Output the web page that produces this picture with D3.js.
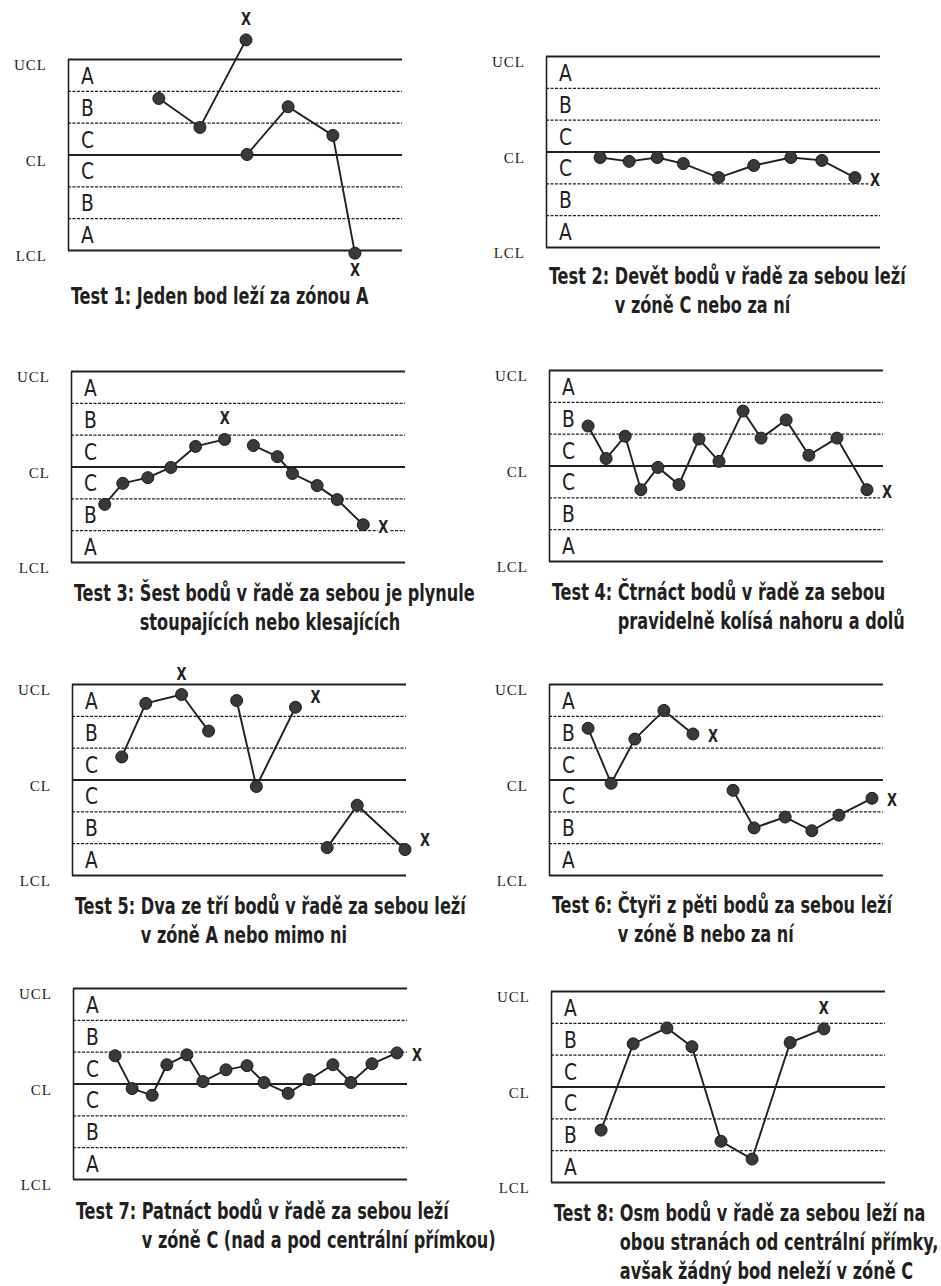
<!DOCTYPE html>
<html>
<head>
<meta charset="utf-8">
<script src="https://cdn.jsdelivr.net/npm/d3@7"></script>
<style>
body { margin: 0; background: #fff; }
.limit-axis text { font-family: 'Liberation Serif', 'DejaVu Serif', serif; font-size: 15px; letter-spacing: 1px; fill: #231f20; }
.limit-axis line { stroke: #231f20; stroke-width: 1.8; }
.limit-axis path { stroke: #231f20; stroke-width: 1.6; }
.zone-axis line { stroke: #231f20; stroke-width: 1.2; stroke-dasharray: 3 1.5; }
.zone-label { font-family: 'Liberation Sans Narrow', 'DejaVu Sans Condensed', sans-serif; font-size: 23px; fill: #231f20; }
.caption, .flag { font-family: 'Liberation Sans Narrow', 'DejaVu Sans Condensed', sans-serif; font-weight: bold; fill: #231f20; }
.caption { font-size: 23px; }
.flag { font-size: 17px; stroke: #fff; stroke-width: 4px; paint-order: stroke; }
.run { fill: none; stroke: #231f20; stroke-width: 1.9; }
.pt { fill: #3d3838; stroke: #1c1a1a; stroke-width: 1; }
</style>
</head>
<body>
<svg width="941" height="1286"></svg>
<script>
const svg = d3.select('svg');

// zones and control limits, in sigma units
const zoneNames = ['A', 'B', 'C', 'C', 'B', 'A'];
const limitValues = [3, 0, -3];
const limitNames = ['UCL', 'CL', 'LCL'];
const zoneEdges = [2, 1, -1, -2];

// each test: runs of [time, sigma]; a new run means the line is broken
const test1 = [
    [[27.2, 1.76], [39.5, 0.85], [53.3, 3.6]],
    [[53.6, 0], [65.9, 1.5], [79.3, 0.6], [85.9, -3.1]]
];
const test2 = [
    [[16.2, -0.19], [24.9, -0.31], [33.3, -0.19], [41.1, -0.38], [51.7, -0.82],
     [62.2, -0.44], [73.3, -0.19], [82.6, -0.28], [92.5, -0.82]]
];
const test3 = [
    [[10.1, -1.19], [15.5, -0.53], [23.0, -0.35], [29.9, -0.03], [37.3, 0.63], [46.0, 0.85]],
    [[54.6, 0.66], [61.8, 0.31], [66.3, -0.22], [73.7, -0.60], [79.7, -1.04], [87.5, -1.83]]
];
const test4 = [
    [[11.7, 1.24], [17.1, 0.22], [22.8, 0.92], [27.5, -0.76], [32.6, -0.06], [38.9, -0.60],
     [44.9, 0.83], [50.9, 0.13], [58.1, 1.71], [63.5, 0.86], [71.0, 1.43], [77.8, 0.32],
     [86.2, 0.86], [95.2, -0.76]]
];
const test5 = [
    [[14.9, 0.71], [22.1, 2.39], [32.8, 2.67], [40.9, 1.52]],
    [[49.3, 2.48], [55.2, -0.22], [66.9, 2.27]],
    [[76.4, -2.14], [85.4, -0.81], [99.7, -2.20]]
];
const test6 = [
    [[11.7, 1.61], [18.6, -0.12], [25.7, 1.27], [34.4, 2.17], [43.1, 1.43]],
    [[55.1, -0.34], [61.4, -1.52], [70.7, -1.18], [78.7, -1.61], [86.8, -1.12], [96.7, -0.59]]
];
const test7 = [
    [[12.6, 0.87], [17.7, -0.16], [23.7, -0.37], [28.1, 0.59], [34.1, 0.90], [38.9, 0.06],
     [45.8, 0.43], [52.1, 0.56], [57.2, 0.03], [64.4, -0.31], [70.7, 0.12], [77.8, 0.59],
     [83.2, 0.03], [89.5, 0.62], [97.0, 0.96]]
];
const test8 = [
    [[15.0, -1.37], [24.6, 1.34], [34.7, 1.84], [42.2, 1.25], [50.9, -1.72], [60.2, -2.28],
     [71.6, 1.38], [81.7, 1.81]]
];

// flagged points: [run, point, side]
const flags1 = [[0, 2, 'above'], [1, 3, 'below']];
const flags2 = [[0, 8, 'right']];
const flags3 = [[0, 5, 'above'], [1, 5, 'right']];
const flags4 = [[0, 13, 'right']];
const flags5 = [[0, 2, 'above'], [1, 2, 'upright'], [2, 2, 'upright']];
const flags6 = [[0, 4, 'right'], [1, 5, 'right']];
const flags7 = [[0, 14, 'right']];
const flags8 = [[0, 7, 'above']];

const captions1 = ['Test 1:', 'Jeden bod leží za zónou A'];
const captions2 = ['Test 2:', 'Devět bodů v řadě za sebou leží', 'v zóně C nebo za ní'];
const captions3 = ['Test 3:', 'Šest bodů v řadě za sebou je plynule', 'stoupajících nebo klesajících'];
const captions4 = ['Test 4:', 'Čtrnáct bodů v řadě za sebou', 'pravidelně kolísá nahoru a dolů'];
const captions5 = ['Test 5:', 'Dva ze tří bodů v řadě za sebou leží', 'v zóně A nebo mimo ni'];
const captions6 = ['Test 6:', 'Čtyři z pěti bodů za sebou leží', 'v zóně B nebo za ní'];
const captions7 = ['Test 7:', 'Patnáct bodů v řadě za sebou leží', 'v zóně C (nad a pod centrální přímkou)'];
const captions8 = ['Test 8:', 'Osm bodů v řadě za sebou leží na', 'obou stranách od centrální přímky,', 'avšak žádný bod neleží v zóně C'];

const boxWidth = 334;
const boxHeight = 191;
const condense = 0.78;  // no narrow bold font installed, so squeeze the captions
const flagOffset = {
    above: [0, -15],
    below: [0, 23],
    right: [20, 8],
    upright: [20, -4]
};

const panels = [
    {left: 68, top: 59, runs: test1, flags: flags1, caption: captions1, capGap: 54},
    {left: 546, top: 56, runs: test2, flags: flags2, caption: captions2, capGap: 37},
    {left: 71, top: 371, runs: test3, flags: flags3, caption: captions3, capGap: 39},
    {left: 549, top: 370, runs: test4, flags: flags4, caption: captions4, capGap: 39},
    {left: 72, top: 684, runs: test5, flags: flags5, caption: captions5, capGap: 39},
    {left: 549, top: 684, runs: test6, flags: flags6, caption: captions6, capGap: 38},
    {left: 73, top: 988, runs: test7, flags: flags7, caption: captions7, capGap: 40},
    {left: 551, top: 991, runs: test8, flags: flags8, caption: captions8, capGap: 39}
];

const xScale = d3.scaleLinear().domain([0, 100]).range([0, boxWidth]);
const yScale = d3.scaleLinear().domain([-3, 3]).range([boxHeight, 0]);

const lineGenerator = d3.line()
    .x(d => xScale(d[0]))
    .y(d => yScale(d[1]));

const render = p => {
    const g = svg.append('g')
        .attr('transform', `translate(${p.left},${p.top})`);

    // dashed zone borders
    const zoneAxis = d3.axisLeft(yScale)
        .tickValues(zoneEdges)
        .tickSize(-boxWidth)
        .tickFormat('');
    const zoneG = g.append('g').attr('class', 'zone-axis').call(zoneAxis);
    zoneG.select('.domain').remove();

    // UCL / CL / LCL lines and labels
    const limitAxis = d3.axisLeft(yScale)
        .tickValues(limitValues)
        .tickSize(-boxWidth)
        .tickSizeOuter(0)
        .tickPadding(21)
        .tickFormat((d, i) => limitNames[i]);
    const limitG = g.append('g').attr('class', 'limit-axis').call(limitAxis);
    limitG.selectAll('text').attr('dy', '0.7em');

    // zone letters
    g.selectAll('.zone-label').data(zoneNames)
        .enter().append('text')
            .attr('class', 'zone-label')
            .attr('transform', (d, i) =>
                `translate(13,${(yScale(3 - i) + yScale(2 - i)) / 2 + 9}) scale(0.9,1)`)
            .text(d => d);

    // runs of points
    g.selectAll('.run').data(p.runs)
        .enter().append('path')
            .attr('class', 'run')
            .attr('d', lineGenerator);

    g.selectAll('.pt').data(p.runs.flat())
        .enter().append('circle')
            .attr('class', 'pt')
            .attr('cx', d => xScale(d[0]))
            .attr('cy', d => yScale(d[1]))
            .attr('r', 6);

    g.selectAll('.flag').data(p.flags)
        .enter().append('text')
            .attr('class', 'flag')
            .attr('text-anchor', 'middle')
            .attr('transform', d => {
                const pt = p.runs[d[0]][d[1]];
                const off = flagOffset[d[2]];
                return `translate(${xScale(pt[0]) + off[0]},${yScale(pt[1]) + off[1]}) scale(0.85,1)`;
            })
            .text('X');

    // caption, continuation lines indented past "Test n:"
    const capG = g.append('g')
        .attr('transform', `translate(3,${boxHeight + p.capGap}) scale(${condense},1)`);
    const first = capG.append('text')
        .attr('class', 'caption')
        .text(p.caption[0] + ' ' + p.caption[1]);
    const indent = first.node().getStartPositionOfChar(p.caption[0].length + 1).x;
    p.caption.slice(2).forEach((line, i) => {
        capG.append('text')
            .attr('class', 'caption')
            .attr('x', indent)
            .attr('y', (i + 1) * 29)
            .text(line);
    });
};

panels.forEach(render);
</script>
</body>
</html>
